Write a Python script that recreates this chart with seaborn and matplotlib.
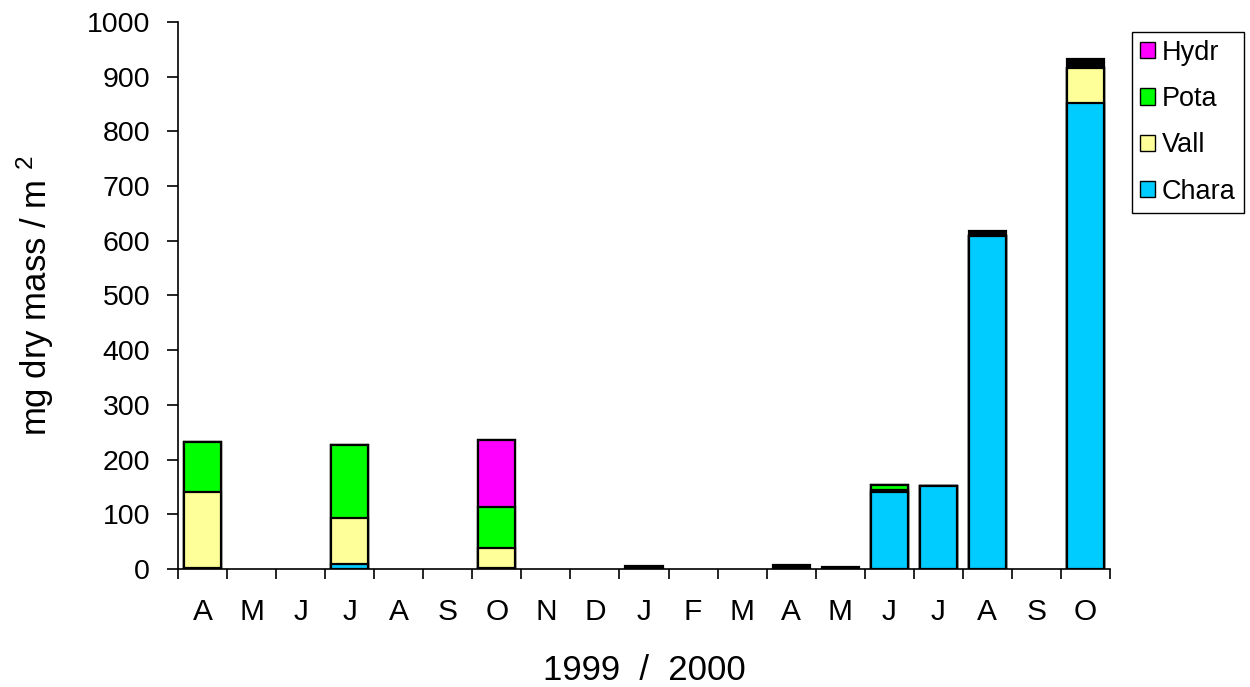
import numpy as np
import pandas as pd
import matplotlib
matplotlib.use("Agg")
import matplotlib.pyplot as plt
from matplotlib.patches import Patch
import seaborn as sns

# --- Data ---
months = ["A", "M", "J", "J", "A", "S", "O", "N", "D", "J",
          "F", "M", "A", "M", "J", "J", "A", "S", "O"]
chara = [1, 0, 0, 10, 0, 0, 1, 0, 0, 0, 0, 0, 0, 0, 141, 152, 608, 0, 851]
vall = [139, 0, 0, 83, 0, 0, 38, 0, 0, 0, 0, 0, 0, 0, 4, 0, 0, 0, 65]
pota = [92, 0, 0, 134, 0, 0, 74, 0, 0, 0, 0, 0, 0, 0, 8, 0, 0, 0, 0]
hydr = [0, 0, 0, 0, 0, 0, 123, 0, 0, 0, 0, 0, 0, 0, 0, 0, 0, 0, 0]
other = [0, 0, 0, 0, 0, 0, 0, 0, 0, 5, 0, 0, 8, 4, 0, 0, 10, 0, 16]

series = ["Chara", "Vall", "Pota", "Hydr", "Other"]
colors = {"Chara": "#00CCFF", "Vall": "#FFFF99", "Pota": "#00FF00",
          "Hydr": "#FF00FF", "Other": "#000000"}

sns.set_style("white")
plt.rcParams["font.family"] = ["Liberation Sans", "DejaVu Sans"]
plt.rcParams["mathtext.default"] = "regular"
plt.rcParams["text.color"] = "black"
plt.rcParams["xtick.color"] = "black"
plt.rcParams["ytick.color"] = "black"
plt.rcParams["axes.labelcolor"] = "black"

df = pd.DataFrame({"pos": np.arange(len(months)), "Chara": chara, "Vall": vall,
                   "Pota": pota, "Hydr": hydr, "Other": other})
cum = df[series].cumsum(axis=1)

fig = plt.figure(figsize=(12.5, 6.87), dpi=100)
ax = fig.add_axes([0.1424, 0.1718, 0.888 - 0.1424, 0.968 - 0.1718])

# draw cumulative totals from the top layer down so each segment shows
for s in reversed(series):
    sns.barplot(x=df["pos"], y=cum[s], color=colors[s], saturation=1,
                width=0.76, edgecolor="black", linewidth=1.6, ax=ax)

for p in ax.patches:
    if p.get_height() <= 0:
        p.set_visible(False)

ax.set_ylim(0, 1000)
ax.set_xlim(-0.5, len(months) - 0.5)
ax.set_yticks(np.arange(0, 1001, 100))
ax.tick_params(axis="y", labelsize=20.5, length=8, width=1.2, direction="out",
               left=True, pad=12)
ax.set_xticks(np.arange(len(months)))
ax.set_xticklabels(months, fontsize=21.5)
ax.tick_params(axis="x", which="major", length=0, pad=21)
ax.set_xticks(np.arange(-0.5, len(months)), minor=True)
ax.tick_params(axis="x", which="minor", length=7, width=1.2, direction="out",
               bottom=True)

for side in ["top", "right"]:
    ax.spines[side].set_visible(False)
for side in ["left", "bottom"]:
    ax.spines[side].set_color("black")
    ax.spines[side].set_linewidth(1.2)

ax.set_xlabel("1999  /  2000", fontsize=25, labelpad=20)
ax.set_ylabel("mg dry mass / m $^{2}$", fontsize=25, labelpad=22)

handles = [Patch(facecolor=colors[s], edgecolor="black", linewidth=1.0, label=s)
           for s in ["Hydr", "Pota", "Vall", "Chara"]]
leg = fig.legend(handles=handles, loc="upper left", bbox_to_anchor=(0.9015, 0.962),
                 fontsize=19.5, frameon=True, fancybox=False, framealpha=1,
                 edgecolor="black", handlelength=0.55, handleheight=0.55,
                 handletextpad=0.25, labelspacing=0.75, borderpad=0.3,
                 borderaxespad=0.2)
leg.get_frame().set_linewidth(1.0)

fig.savefig("out.png", dpi=100)
